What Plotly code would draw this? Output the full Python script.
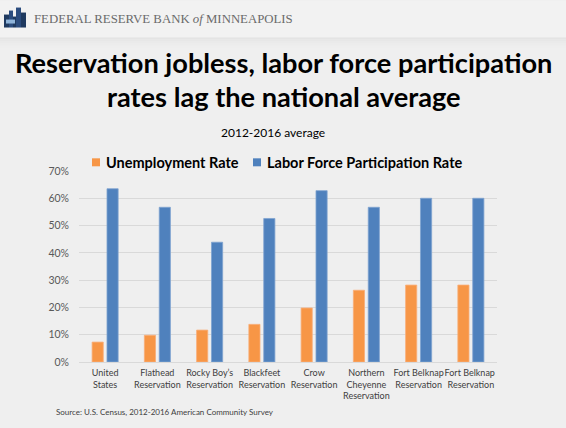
import plotly.graph_objects as go

# Reservation labor market data, 2012-2016 ACS averages
categories = [
    "United<br>States",
    "Flathead<br>Reservation",
    "Rocky Boy\u2019s<br>Reservation",
    "Blackfeet<br>Reservation",
    "Crow<br>Reservation",
    "Northern<br>Cheyenne<br>Reservation",
    "Fort Belknap<br>Reservation",
    "Fort Belknap <br>Reservation",
]
unemployment_rate = [0.073, 0.098, 0.117, 0.138, 0.198, 0.263, 0.282, 0.282]
participation_rate = [0.635, 0.567, 0.439, 0.526, 0.628, 0.567, 0.600, 0.600]
y_ticks = [0, 0.1, 0.2, 0.3, 0.4, 0.5, 0.6, 0.7]

series_names = ["Unemployment Rate", "Labor Force Participation Rate"]
ORANGE = "#F79646"
BLUE = "#4F81BD"
BG = "#EFEFEF"
FONT = "Lato"

fig = go.Figure()
fig.add_trace(go.Bar(x=categories, y=unemployment_rate, name=series_names[0],
                     marker=dict(color=ORANGE, line=dict(color="#F9AE78", width=0.8))))
fig.add_trace(go.Bar(x=categories, y=participation_rate, name=series_names[1],
                     marker=dict(color=BLUE, line=dict(color="#7FA3D0", width=0.8))))

fig.update_layout(
    width=566, height=428,
    margin=dict(l=79, r=69, t=171, b=66),
    paper_bgcolor=BG, plot_bgcolor=BG,
    barmode="group", bargap=0.43, bargroupgap=0.25,
    showlegend=False,
    font=dict(family=FONT, color="#404040"),
)
fig.update_yaxes(range=[0, 0.7], tickvals=y_ticks, tickformat=".0%",
                 showgrid=True, gridcolor="#D9D9D9", gridwidth=1,
                 zeroline=True, zerolinecolor="#D9D9D9", zerolinewidth=1,
                 showline=False, ticks="", ticklabelstandoff=9,
                 tickfont=dict(family=FONT, size=10.5, color="#595959"))
fig.update_xaxes(showline=False, ticks="", tickangle=0, ticklabelstandoff=4,
                 tickfont=dict(family=FONT, size=9, color="#404040"))


def px(x, y):
    """Pixel position in the page to paper coordinates."""
    return (x - 79) / 418, (362 - y) / 191.3


def rect(x0, y0, x1, y1, color, layer="above"):
    a0, b1 = px(x0, y0)
    a1, b0 = px(x1, y1)
    return dict(type="rect", xref="paper", yref="paper", x0=a0, x1=a1, y0=b0, y1=b1,
                fillcolor=color, line=dict(width=0), layer=layer)


shapes = []
# header band and its soft shadow
shapes.append(rect(0, 0, 566, 37, "#F2F2F2", "below"))
for i, c in enumerate(["#E4E4E4", "#E7E7E7", "#EAEAEA", "#ECECEC", "#EEEEEE"]):
    shapes.append(rect(0, 37 + 2 * i, 566, 39 + 2 * i, c, "below"))

# small skyline logo
logo_blocks = [
    (4, 14, 9, 27, "#1F3A60"), (9, 10, 13, 27, "#2B4C7E"), (13, 16, 16, 27, "#1F3A60"),
    (16, 7, 21, 27, "#2B4C7E"), (21, 12, 26, 27, "#1F3A60"), (6, 19, 15, 23, "#8FB4DA"),
]
for x0, y0, x1, y1, c in logo_blocks:
    shapes.append(rect(x0, y0, x1, y1, c))

# legend swatches
for x0, c in [(92, ORANGE), (253, BLUE)]:
    shapes.append(rect(x0, 158, x0 + 8, 166, c))
fig.update_layout(shapes=shapes)

annotations = []


def text(x, y, s, size, color="#000000", family=FONT, xanchor="left", bold=False):
    a, b = px(x, y)
    if bold:
        s = "<b>" + s + "</b>"
    annotations.append(dict(xref="paper", yref="paper", x=a, y=b, text=s, showarrow=False,
                            xanchor=xanchor, yanchor="middle",
                            font=dict(size=size, color=color, family=family)))


text(32, 18, "FEDERAL RESERVE BANK <i>of</i> MINNEAPOLIS", 12.8, "#6B6B6B", "Liberation Serif")
text(283, 62, "Reservation jobless, labor force participation", 27.2, "#000000", bold=True,
     xanchor="center")
text(284, 96, "rates lag the national average", 27.2, "#000000", bold=True, xanchor="center")
text(273, 132, "2012-2016 average", 12, "#000000", xanchor="center")
text(104, 162, series_names[0], 14.5, "#000000", bold=True)
text(265, 162, series_names[1], 14.5, "#000000", bold=True)
text(54, 412, "Source: U.S. Census, 2012-2016 American Community Survey", 8, "#404040")
fig.update_layout(annotations=annotations)

fig.write_html("out.html")
